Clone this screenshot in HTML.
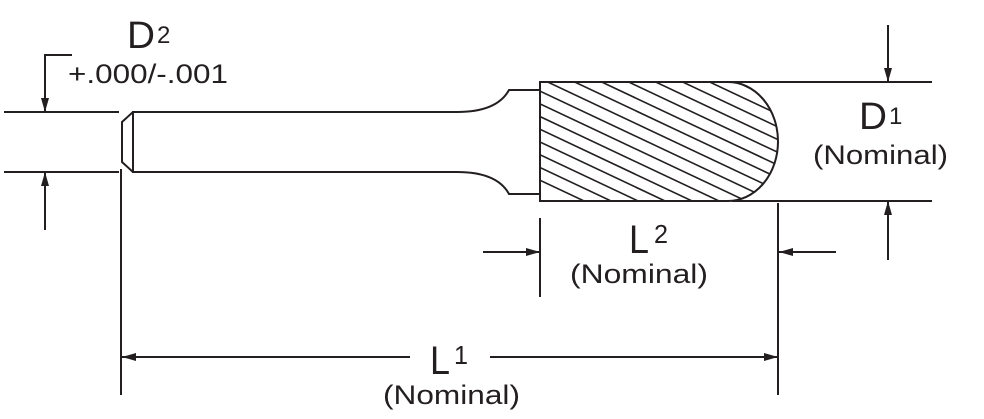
<!DOCTYPE html>
<html><head><style>
html,body{margin:0;padding:0;background:#fff;}
svg{display:block;}
text{font-family:"Liberation Sans",sans-serif;fill:#231f20;}
</style></head><body>
<svg width="984" height="419" viewBox="0 0 984 419" xmlns="http://www.w3.org/2000/svg">
<defs>
<clipPath id="head"><path d="M540,82 H728 A50,59.5 0 0 1 728,201 H540 Z"/></clipPath>
<marker id="ar" markerWidth="14" markerHeight="8" refX="14" refY="4" orient="auto" markerUnits="userSpaceOnUse"><path d="M0,0 L14,4 L0,8 Z" fill="#231f20"/></marker>
</defs>
<g stroke="#231f20" stroke-width="2" fill="none">
<!-- shank -->
<path d="M133,112 H457 Q497,112 509,90 H540 V194 H509 Q497,172 457,172 H133 Z"/>
<path d="M133,112 L122,122 V162 L133,172"/>
<!-- head hatch -->
<g clip-path="url(#head)" stroke-width="1.6">
<path d="M420,60 l420,198 M447,60 l420,198 M474,60 l420,198 M501,60 l420,198 M528,60 l420,198 M555,60 l420,198 M582,60 l420,198 M609,60 l420,198 M636,60 l420,198 M663,60 l420,198 M690,60 l420,198 M717,60 l420,198 M393,60 l420,198 M366,60 l420,198 M339,60 l420,198 M312,60 l420,198 M285,60 l420,198"/>
</g>
<path d="M540,82 H728 A50,59.5 0 0 1 728,201 H540 Z"/>
<!-- extension lines -->
<path d="M700,82 H932 M732,201 H932"/>
<path d="M4,112 H119 M4,172 H119"/>
<path d="M121,169 V395 M778,203 V395 M540,218 V297"/>
<!-- D2 arrows -->
<path d="M72,55 H45 V112" marker-end="url(#ar)"/>
<path d="M45,230 V172" marker-end="url(#ar)"/>
<!-- D1 arrows -->
<path d="M888,25 V82" marker-end="url(#ar)"/>
<path d="M888,260 V201" marker-end="url(#ar)"/>
<!-- L2 arrows -->
<path d="M483,252 H540" marker-end="url(#ar)"/>
<path d="M836,252 H779" marker-end="url(#ar)"/>
<!-- L1 -->
<path d="M410,357 H122" marker-end="url(#ar)"/>
<path d="M490,357 H778" marker-end="url(#ar)"/>
</g>
<text x="127" y="48" font-size="38" textLength="28" lengthAdjust="spacingAndGlyphs">D</text>
<text x="157" y="43" font-size="24">2</text>
<text x="68" y="83" font-size="27" textLength="160" lengthAdjust="spacingAndGlyphs">+.000/-.001</text>
<text x="859" y="129" font-size="38" textLength="28" lengthAdjust="spacingAndGlyphs">D</text>
<text x="889" y="124" font-size="24">1</text>
<text x="813" y="164" font-size="27" textLength="135" lengthAdjust="spacingAndGlyphs">(Nominal)</text>
<text x="629" y="253" font-size="40" textLength="20" lengthAdjust="spacingAndGlyphs">L</text>
<text x="654" y="243" font-size="26" textLength="14" lengthAdjust="spacingAndGlyphs">2</text>
<text x="570" y="283" font-size="27" textLength="138" lengthAdjust="spacingAndGlyphs">(Nominal)</text>
<text x="430" y="374" font-size="40" textLength="20" lengthAdjust="spacingAndGlyphs">L</text>
<text x="454" y="364" font-size="26" textLength="14" lengthAdjust="spacingAndGlyphs">1</text>
<text x="383" y="404" font-size="27" textLength="137" lengthAdjust="spacingAndGlyphs">(Nominal)</text>
</svg>
</body></html>
